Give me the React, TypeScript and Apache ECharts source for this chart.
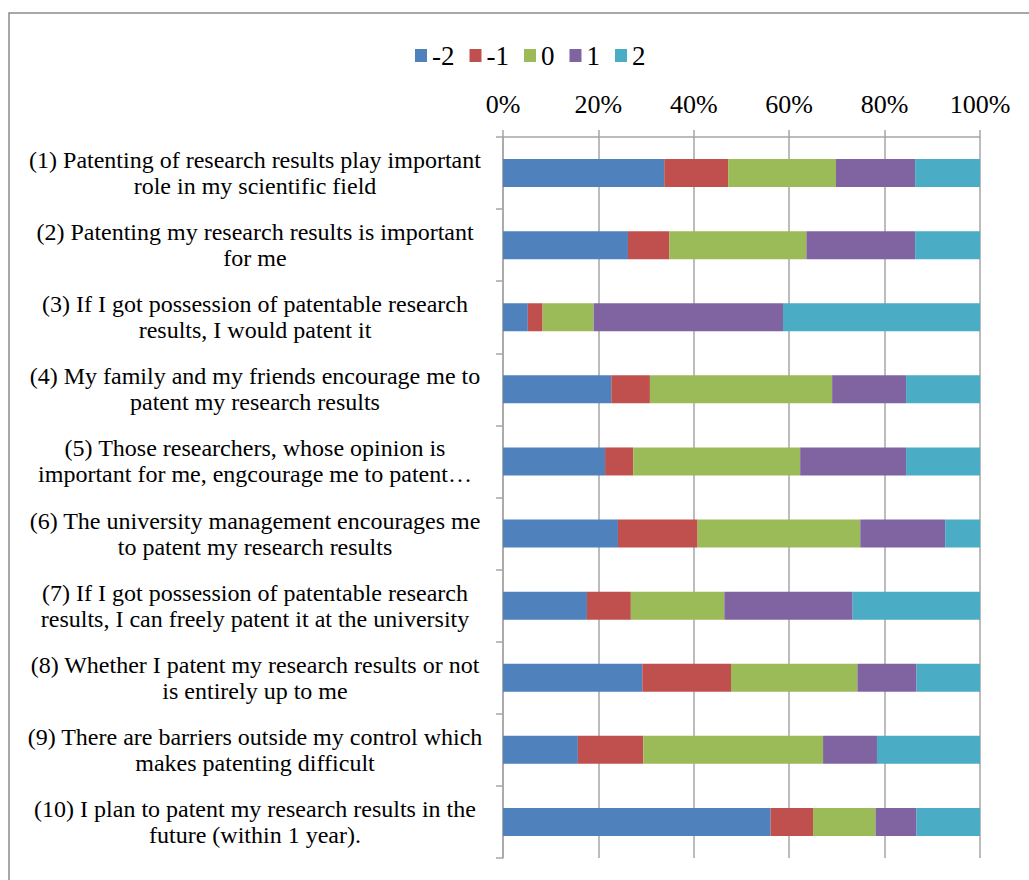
import React, { useEffect, useRef } from "react";
import * as echarts from "echarts";

const categories = [
  "(1) Patenting of research results play important\nrole in my scientific field",
  "(2) Patenting my research results is important\nfor me",
  "(3) If I got possession of patentable research\nresults, I would patent it",
  "(4) My family and my friends encourage me to\npatent my research results",
  "(5) Those researchers, whose opinion is\nimportant for me, engcourage me to patent…",
  "(6) The university management encourages me\nto patent my research results",
  "(7) If I got possession of patentable research\nresults, I can freely patent it at the university",
  "(8) Whether I patent my research results or not\nis entirely up to me",
  "(9) There are barriers outside my control which\nmakes patenting difficult",
  "(10) I plan to patent my research results in the\nfuture (within 1 year).",
];

const seriesNames = ["-2", "-1", "0", "1", "2"];
const valuesMinus2 = [33.8, 26.2, 5.2, 22.7, 21.4, 24.1, 17.6, 29.2, 15.7, 56.1];
const valuesMinus1 = [13.4, 8.7, 3.1, 8.1, 5.9, 16.7, 9.2, 18.6, 13.7, 8.9];
const valuesZero = [22.6, 28.7, 10.7, 38.2, 35.0, 34.1, 19.6, 26.5, 37.7, 13.1];
const valuesPlus1 = [16.6, 22.8, 39.7, 15.5, 22.2, 17.8, 26.9, 12.4, 11.3, 8.6];
const valuesPlus2 = [13.6, 13.6, 41.3, 15.5, 15.5, 7.3, 26.7, 13.3, 21.6, 13.3];
const colors = ["#4F81BD", "#C0504D", "#9BBB59", "#8064A2", "#4BACC6"];

const FONT = "'Liberation Serif', 'Times New Roman', serif";

export default function App() {
  const ref = useRef<HTMLDivElement>(null);
  useEffect(() => {
    if (!ref.current) return;
    const chart = echarts.init(ref.current, undefined, { renderer: "svg" });
    const allValues = [valuesMinus2, valuesMinus1, valuesZero, valuesPlus1, valuesPlus2];
    chart.setOption({
      animation: false,
      backgroundColor: "#ffffff",
      color: colors,
      graphic: [
        {
          type: "rect",
          shape: { x: 9, y: 13, width: 1060, height: 900 },
          style: { fill: "none", stroke: "#8c8c8c", lineWidth: 1.5 },
          silent: true,
        },
      ],
      legend: {
        left: 410,
        top: 37,
        itemWidth: 12,
        itemHeight: 13,
        itemGap: 15,
        icon: "rect",
        textStyle: { fontFamily: FONT, fontSize: 27, color: "#000" },
        data: seriesNames,
      },
      grid: { left: 503, right: 49, top: 137, bottom: 22 },
      xAxis: {
        type: "value",
        position: "top",
        min: 0,
        max: 100,
        interval: 20,
        axisLine: { show: true, lineStyle: { color: "#a6a6a6", width: 1.5 } },
        axisTick: { show: true, length: 7, lineStyle: { color: "#a6a6a6", width: 1.5 } },
        splitLine: { show: true, lineStyle: { color: "#a6a6a6", width: 1.5 } },
        axisLabel: {
          formatter: "{value}%",
          fontFamily: FONT,
          fontSize: 26,
          color: "#000",
          margin: 20,
        },
      },
      yAxis: {
        type: "category",
        inverse: true,
        data: categories,
        axisLine: { show: true, lineStyle: { color: "#a6a6a6", width: 1.5 } },
        axisTick: { show: true, length: 7, lineStyle: { color: "#a6a6a6", width: 1.5 } },
        axisLabel: {
          align: "center",
          margin: 248,
          fontFamily: FONT,
          fontSize: 24,
          lineHeight: 26,
          color: "#000",
        },
      },
      series: seriesNames.map((name, i) => ({
        name,
        type: "bar",
        stack: "total",
        barWidth: 28,
        data: allValues[i],
        itemStyle: { color: colors[i] },
      })),
    });
    return () => chart.dispose();
  }, []);
  return (
    <div
      ref={ref}
      style={{ position: "absolute", left: 0, top: 0, width: 1029, height: 880 }}
    />
  );
}
